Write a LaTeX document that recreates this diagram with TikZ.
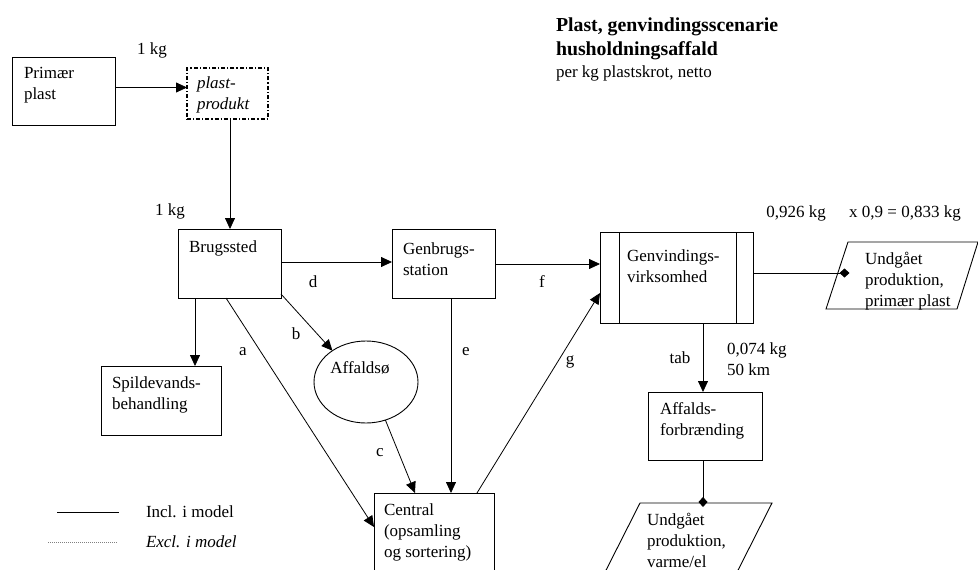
\documentclass[tikz,border=0pt]{standalone}
\usepackage{fontspec}
\setmainfont{Liberation Serif}
\usetikzlibrary{arrows.meta,shapes.geometric}
\begin{document}
\begin{tikzpicture}[x=1pt,y=-1pt,
  every node/.style={inner sep=0pt,outer sep=0pt,font=\fontsize{17}{21}\selectfont},
  box/.style={draw,line width=0.9pt,rectangle},
  txt/.style={anchor=north west,align=left},
  flow/.style={line width=0.8pt,-{Triangle[length=11pt,width=10pt]}},
  gain/.style={line width=0.8pt,-{Diamond[length=10pt,width=9pt]}},
  plain/.style={line width=0.9pt}]
\useasboundingbox (0,0) rectangle (978,570);
\clip (0,0) rectangle (978,570);

% title
\node[anchor=base west,font=\fontsize{19.8}{23}\selectfont\bfseries] (title1) at (556,31) {Plast, genvindingsscenarie};
\node[anchor=base west,font=\fontsize{19.8}{23}\selectfont\bfseries] (title2) at (556,55) {husholdningsaffald};
\node[anchor=base west] (title3) at (556,77) {per kg plastskrot, netto};

% boxes
\node[box,minimum width=103pt,minimum height=68pt] (primaer) at (63.5,91) {};
\node[txt] (primaer-t) at (24,67) {Primær\\plast};
\node[draw,line width=1.2pt,dash pattern=on 4pt off 2pt on 1.2pt off 2pt,
      minimum width=81pt,minimum height=51pt] (produkt) at (227.5,93.5) {};
\node[txt,font=\fontsize{17}{21}\selectfont\itshape] (produkt-t) at (197,77) {plast-\\produkt};
\node[box,minimum width=103pt,minimum height=69pt] (brug) at (229.5,263.5) {};
\node[txt] (brug-t) at (189,241) {Brugssted};
\node[box,minimum width=120pt,minimum height=69pt] (spild) at (161,400.5) {};
\node[txt] (spild-t) at (112,377) {Spildevands-\\behandling};
\node[box,minimum width=103pt,minimum height=69pt] (genbrug) at (443.5,263.5) {};
\node[txt] (genbrug-t) at (403,243) {Genbrugs-\\station};
\node[box,minimum width=153pt,minimum height=91pt] (genvind) at (676.5,277.5) {};
\draw[plain] ([xshift=19pt]genvind.north west) -- ([xshift=19pt]genvind.south west);
\draw[plain] ([xshift=-17pt]genvind.north east) -- ([xshift=-17pt]genvind.south east);
\node[txt] (genvind-t) at (627,250) {Genvindings-\\virksomhed};
\node[draw,line width=0.9pt,ellipse,minimum width=104pt,minimum height=82pt] (affaldso) at (366,382) {};
\node[anchor=north] (affaldso-t) at (360,362) {Affaldsø};
\node[box,minimum width=120pt,minimum height=97pt] (central) at (434,541.5) {};
\node[txt] (central-t) at (384,504) {Central\\(opsamling\\og sortering)};
\node[box,minimum width=114pt,minimum height=68pt] (forb) at (705,426) {};
\node[txt] (forb-t) at (660,403) {Affalds-\\forbrænding};

% avoided production
\draw[plain] (826,309) -- (848,242) -- (978,242) -- (957,309) -- cycle;
\node[txt] (u1-t) at (865,252) {Undgået\\produktion,\\primær plast};
\coordinate (u1) at (849.5,273);
\draw[plain] (596,590) -- (640,503) -- (772,503) -- (728,590) -- cycle;
\node[txt] (u2-t) at (647,513) {Undgået\\produktion,\\varme/el};
\coordinate (u2) at (703,507);

% flows
\draw[flow] ([yshift=3.5pt]primaer.east) -- ([yshift=6pt]produkt.west);
\draw[flow] ([xshift=2.5pt]produkt.south) -- ([xshift=0.5pt]brug.north);
\draw[flow] ([yshift=1.5pt]brug.east) -- ([yshift=1.5pt]genbrug.west);
\draw[flow] ([xshift=-34.5pt]brug.south) -- ([xshift=34pt]spild.north);
\draw[flow] ([yshift=4pt]brug.south east) -- (affaldso.137);
\draw[flow] ([xshift=-3.5pt]brug.south) -- ([yshift=14.5pt]central.west);
\draw[flow] (affaldso.-63) -- ([xshift=-19pt]central.north);
\draw[flow] ([xshift=7.5pt]genbrug.south) -- ([xshift=17pt]central.north);
\draw[flow] ([xshift=43pt]central.north) -- ([yshift=-15.5pt]genvind.west);
\draw[flow] ([yshift=-0.5pt]genbrug.east) -- ([yshift=13.5pt]genvind.west);
\draw[flow] ([xshift=26.5pt]genvind.south) -- ([xshift=-2pt]forb.north);
\draw[gain] ([yshift=4.5pt]genvind.east) -- (u1);
\draw[gain] ([xshift=-2pt]forb.south) -- (u2);

% flow labels
\node (kg1) at (152,50) {1 kg};
\node (kg2) at (170,211) {1 kg};
\node (ld) at (313,282) {d};
\node (lb) at (296,334) {b};
\node (la) at (243,352) {a};
\node (lc) at (380,453) {c};
\node (le) at (466,352) {e};
\node (lg) at (570,362) {g};
\node (lf) at (542,282) {f};
\node (ltab) at (680,358) {tab};
\node[txt] (l074) at (727,343) {0,074 kg\\50 km};
\node (l926) at (796,213) {0,926 kg};
\node (l833) at (905,213) {x 0,9 = 0,833 kg};

% legend
\draw[line width=0.9pt] (57,512) -- (119,512);
\node[anchor=base west] (incl) at (146,517) {Incl. i model};
\draw[line width=0.5pt,gray,dash pattern=on 1pt off 1pt] (48,542) -- (117,542);
\node[anchor=base west,font=\fontsize{17}{21}\selectfont\itshape] (excl) at (146,547) {Excl. i model};
\end{tikzpicture}
\end{document}
